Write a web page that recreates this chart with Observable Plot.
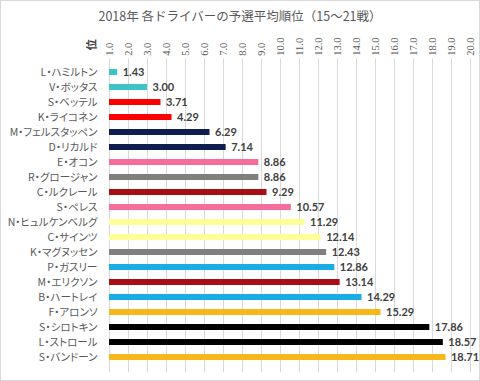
<!DOCTYPE html>
<html><head><meta charset="utf-8">
<script src="https://cdn.jsdelivr.net/npm/d3@7"></script>
<script src="https://cdn.jsdelivr.net/npm/@observablehq/plot@0.6"></script>
<style>
html,body{margin:0;padding:0;background:#fff;}
#chart{position:relative;width:480px;height:381px;overflow:hidden;}
#chart svg{position:absolute;left:0;top:0;}
#chart svg text{font-feature-settings:"palt";}
#title{position:absolute;left:0;top:8px;width:480px;text-align:center;font-size:12.5px;line-height:16px;font-family:"Noto Sans CJK JP",sans-serif;color:#595959;z-index:2;}
#border{position:absolute;left:0;top:0;right:0;bottom:0;border:1px solid #d9d9d9;pointer-events:none;z-index:3;}
</style></head>
<body>
<div id="chart"><div id="title">2018年 各ドライバーの予選平均順位（15～21戦）</div><div id="border"></div></div>
<script>
const drivers = ["L・ハミルトン","V・ボッタス","S・ベッテル","K・ライコネン","M・フェルスタッペン","D・リカルド","E・オコン","R・グロージャン","C・ルクレール","S・ペレス","N・ヒュルケンベルグ","C・サインツ","K・マグヌッセン","P・ガスリー","M・エリクソン","B・ハートレイ","F・アロンソ","S・シロトキン","L・ストロール","S・バンドーン"];
const avgPos = [1.43,3.00,3.71,4.29,6.29,7.14,8.86,8.86,9.29,10.57,11.29,12.14,12.43,12.86,13.14,14.29,15.29,17.86,18.57,18.71];
const barColors = ["#3FC4C6","#3FC4C6","#FF0000","#FF0000","#0E1C4F","#0E1C4F","#F46D9B","#7F7F7F","#A80F15","#F46D9B","#FFFF99","#FFFF99","#7F7F7F","#1AACE6","#A80F15","#1AACE6","#F5B719","#000000","#000000","#F5B719"];
const tickValues = [1,2,3,4,5,6,7,8,9,10,11,12,13,14,15,16,17,18,19,20];
const axisMin = 1, axisMax = 20;
const axisUnit = "位";

const data = drivers.map((name, i) => ({name, value: avgPos[i], color: barColors[i]}));

const plot = Plot.plot({
  width: 480, height: 381,
  marginLeft: 109, marginRight: 10, marginTop: 60.3, marginBottom: 12.7,
  x: {domain: [axisMin, axisMax], axis: null},
  y: {domain: drivers, paddingInner: 0.6, paddingOuter: 0.3, axis: null},
  color: {type: "identity"},
  style: {background: "transparent", fontFamily: "Lato, 'Noto Sans CJK JP', sans-serif"},
  marks: [
    Plot.gridX(tickValues, {stroke: "#d9d9d9", strokeOpacity: 1, insetTop: -2, insetBottom: -4}),
    Plot.axisX(tickValues, {anchor: "top", tickSize: 0, tickPadding: 5, tickRotate: -90, label: null,
      tickFormat: d => d.toFixed(1), fontSize: 10.5, fontFamily: "'Liberation Serif', serif", color: "#595959"}),
    Plot.axisY({tickSize: 0, tickPadding: 12, label: null, fontSize: 10.5,
      fontFamily: "'Noto Sans CJK JP', sans-serif", color: "#595959"}),
    Plot.barX(data, {x1: () => axisMin, x2: "value", y: "name", fill: "color"}),
    Plot.text(data, {x: "value", y: "name", text: d => d.value.toFixed(2), dx: 5, textAnchor: "start",
      fontWeight: "bold", fontSize: 11, fill: "#404040", fontFamily: "Lato, sans-serif"}),
    Plot.text([axisUnit], {frameAnchor: "top-left", dx: -17, dy: -16, rotate: -90, textAnchor: "middle",
      lineAnchor: "middle", fontWeight: "bold", fontSize: 11, fill: "#404040", fontFamily: "'Noto Sans CJK JP', sans-serif"})
  ]
});
document.getElementById("chart").appendChild(plot);
</script>
</body></html>
